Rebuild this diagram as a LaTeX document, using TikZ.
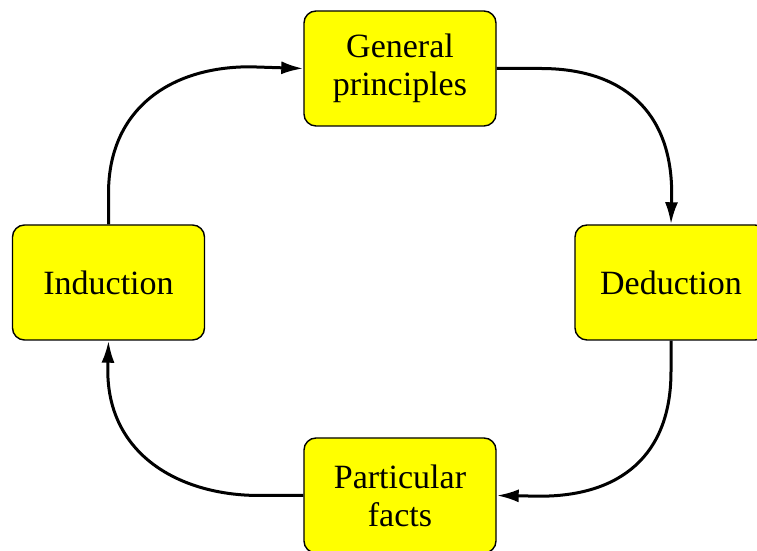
\documentclass[tikz,border=0pt]{standalone}
\usepackage{fontspec}
\setmainfont{Liberation Serif}
\usepackage{tikz}
\usetikzlibrary{arrows.meta,positioning}
\definecolor{boxyellow}{HTML}{FFFF00}

\begin{document}
\begin{tikzpicture}[x=0.5pt, y=0.5pt, every node/.style={font=\fontsize{17}{19}\selectfont}, box/.style={draw, line width=0.7pt, rounded corners=6pt, fill=boxyellow, minimum width=96pt, minimum height=57.5pt, align=center, inner sep=0pt}, arr/.style={-{Latex[length=11pt,width=6.5pt]}, line width=1.5pt}]
\useasboundingbox (0,0) rectangle (757,551);
\node[box] (general) at (400,482.5) {General\\principles};
\node[box] (induction) at (108.5,268.5) {Induction};
\node[box] (deduction) at (671,268.5) {Deduction};
\node[box] (particular) at (400,55.5) {Particular\\facts};
\draw[arr] (induction.north) -- ++(0,31) .. controls +(0,84) and +(-80,0) .. ++(141.5,126.5) -- (general.west);
\draw[arr] (general.east) -- ++(44,0) .. controls +(80,0) and +(0,84) .. ++(131,-125) -- (deduction.north);
\draw[arr] (deduction.south) -- ++(0,-31) .. controls +(0,-84) and +(80,0) .. ++(-131,-124.5) -- (particular.east);
\draw[arr] (particular.west) -- ++(-44,0) .. controls +(-80,0) and +(0,-84) .. ++(-151.5,125) -- (induction.south);
\end{tikzpicture}
\end{document}
